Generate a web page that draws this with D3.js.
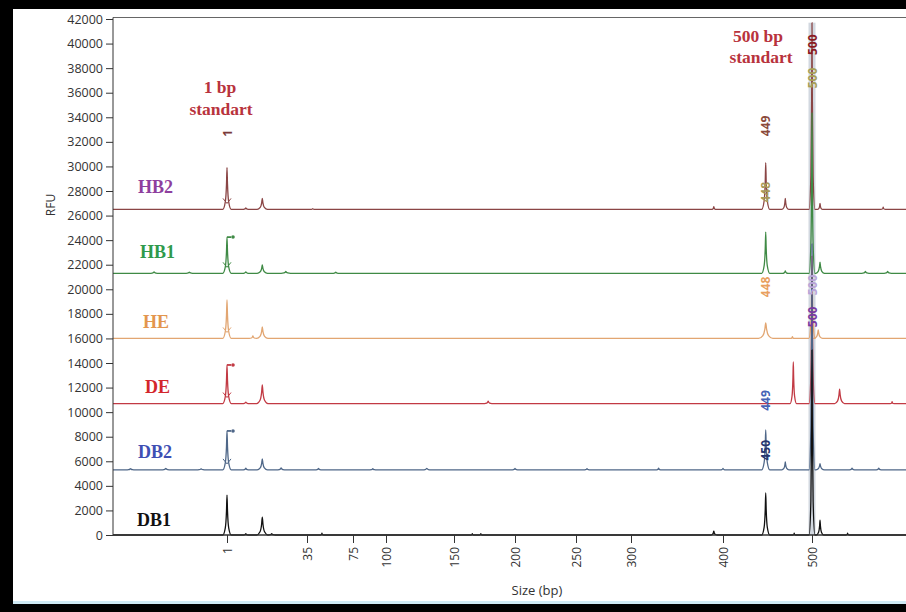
<!DOCTYPE html>
<html>
<head>
<meta charset="utf-8">
<script src="https://cdn.jsdelivr.net/npm/d3@7"></script>
<style>
  html, body { margin: 0; padding: 0; background: #fff; }
  svg { display: block; }
</style>
</head>
<body>
<svg id="chart" width="906" height="612"></svg>
<script>
// ---- data ----
const sampleNames = ["HB2", "HB1", "HE", "DE", "DB2", "DB1"];
const sampleColors = ["#8e3f9e", "#2f9a4c", "#e3964e", "#d3262c", "#3f4fb3", "#111111"];
const traceColors = ["#8a4545", "#3f8a45", "#e2a672", "#c23a44", "#4f6788", "#111111"];
const baselines = [26500, 21300, 16000, 10700, 5300, 0];

// peaks per sample: [size (bp), height above baseline (RFU), half width (bp)]
const peaksHB2 = [[1, 3400, 1.8], [9, 120, 1.5], [16, 900, 2.2], [40, 60, 3], [390, 220, 2.5], [448, 3800, 4.5], [470, 900, 4], [500, 15200, 3.2], [509, 500, 3], [580, 180, 2.5]];
const peaksHB1 = [[-30, 120, 2], [-15, 90, 2], [1, 2950, 1.8], [9, 120, 1.5], [16, 680, 2.2], [26, 150, 2], [60, 100, 3], [448, 3350, 4.5], [470, 200, 3], [500, 13050, 3.2], [509, 900, 5], [560, 150, 4], [585, 150, 4]];
const peaksHE = [[1, 3130, 1.8], [12, 200, 1.5], [16, 930, 2.4], [448, 1260, 8], [478, 150, 2], [500, 6000, 3.5], [507, 700, 5]];
const peaksDE = [[1, 3140, 1.8], [9, 120, 1.5], [16, 1510, 2.4], [178, 200, 3], [479, 3380, 3.6], [500, 12000, 3.2], [531, 1180, 5.5], [590, 150, 2]];
const peaksDB2 = [[-40, 100, 2], [-25, 120, 2], [-10, 90, 2], [1, 3170, 1.8], [9, 150, 1.5], [16, 890, 2.2], [24, 160, 2], [45, 120, 3], [90, 100, 3], [130, 130, 3], [200, 120, 3], [260, 110, 3], [330, 140, 3], [400, 120, 3], [448, 3250, 4.5], [470, 640, 4], [500, 18400, 3.2], [509, 500, 5], [545, 150, 4], [575, 150, 4]];
const peaksDB1 = [[1, 3250, 1.8], [9, 100, 1.5], [16, 1460, 2.4], [20, 120, 1.5], [48, 150, 1.5], [165, 100, 1.5], [172, 100, 1.5], [390, 320, 3.5], [448, 3420, 4.5], [480, 150, 1.5], [500, 15060, 3.2], [509, 1200, 4], [540, 150, 2]];
const samplePeaks = [peaksHB2, peaksHB1, peaksHE, peaksDE, peaksDB2, peaksDB1];

// rotated peak labels: [text, size (bp), level (RFU), colour]
const peakLabelText = ["1", "449", "448", "500", "500", "448", "500", "500", "449", "450"];
const peakLabelSize = [1, 448, 448, 500, 500, 448, 500, 500, 448, 448];
const peakLabelRfu = [32700, 33300, 27900, 39900, 37200, 20200, 20350, 17750, 10950, 6900];
const peakLabelColor = ["#7a3a3a", "#8b4a3a", "#a89a58", "#8b1a22", "#a8a058", "#e8a060", "#b9a4d8", "#7a3aa0", "#4563b5", "#27356f"];

const sizeTicks = [1, 35, 75, 100, 150, 200, 250, 300, 400, 500];
const rfuTicks = [0, 2000, 4000, 6000, 8000, 10000, 12000, 14000, 16000, 18000, 20000,
  22000, 24000, 26000, 28000, 30000, 32000, 34000, 36000, 38000, 40000, 42000];

// ---- layout ----
const W = 906, H = 612;
const plot = { left: 113, top: 17.5, right: 906, bottom: 535 };
const svg = d3.select("#chart");

// outer frame
svg.append("rect").attr("x", 0).attr("y", 0).attr("width", W).attr("height", H).attr("fill", "#000");
svg.append("rect").attr("x", 13).attr("y", 9).attr("width", W - 13).attr("height", 592).attr("fill", "#fff");
svg.append("rect").attr("x", 13).attr("y", 601).attr("width", W - 13).attr("height", 3).attr("fill", "#cfeaf5");

// size axis is calibrated against the sizing standard (non-linear in bp)
const x = d3.scaleLinear()
  .domain(sizeTicks)
  .range([227, 307, 353, 386, 454, 515, 576, 631, 723, 812]);
const y = d3.scaleLinear().domain([0, 42000]).range([plot.bottom, 19]);

const sizeMin = x.invert(plot.left), sizeMax = x.invert(plot.right);

svg.append("defs").append("clipPath").attr("id", "plotclip")
  .append("rect").attr("x", plot.left).attr("y", plot.top)
  .attr("width", plot.right - plot.left).attr("height", plot.bottom - plot.top + 2);

// bin band at the 500 bp standard
svg.append("rect")
  .attr("x", x(500) - 3.5).attr("width", 7)
  .attr("y", y(41700)).attr("height", y(0) - y(41700))
  .attr("fill", "#c3cbd6").attr("opacity", 0.75);

// ---- traces ----
const line = d3.line().x(d => x(d[0])).y(d => y(d[1])).curve(d3.curveMonotoneX);

function tracePoints(base, peaks) {
  const pts = [[sizeMin, base]];
  peaks.slice().sort((a, b) => a[0] - b[0]).forEach(([s, h, w]) => {
    pts.push([s - w, base]);
    pts.push([s - w * 0.4, base + h * 0.18]);
    pts.push([s - w * 0.12, base + h * 0.6]);
    pts.push([s, base + h]);
    pts.push([s + w * 0.12, base + h * 0.6]);
    pts.push([s + w * 0.4, base + h * 0.18]);
    pts.push([s + w, base]);
  });
  pts.push([sizeMax, base]);
  return pts;
}

const traces = svg.append("g").attr("clip-path", "url(#plotclip)");
sampleNames.forEach((name, i) => {
  traces.append("path")
    .datum(tracePoints(baselines[i], samplePeaks[i]))
    .attr("d", line)
    .attr("fill", "none")
    .attr("stroke", traceColors[i])
    .attr("stroke-width", 1.3)
    .attr("stroke-linejoin", "round");
});

// flags on the 1 bp standard peaks
[1, 3, 4].forEach(i => {
  const top = baselines[i] + samplePeaks[i].find(p => p[0] === 1)[1];
  const g = traces.append("g");
  g.append("path")
    .attr("d", `M${x(1)},${y(top)}h4`)
    .attr("stroke", traceColors[i]).attr("stroke-width", 1.8).attr("fill", "none");
  g.append("circle").attr("cx", x(1) + 6).attr("cy", y(top)).attr("r", 1.8)
    .attr("fill", traceColors[i]);
});
// arrow markers near the base of the 1 bp peaks
[0, 1, 2, 3, 4].forEach(i => {
  const yy = y(baselines[i] + 650);
  traces.append("path")
    .attr("d", `M${x(1) - 4},${yy - 3}L${x(1)},${yy + 2}L${x(1) + 4},${yy - 3}`)
    .attr("fill", "none").attr("stroke", traceColors[i]).attr("stroke-width", 1);
});

// rotated peak labels
peakLabelText.forEach((t, i) => {
  svg.append("text")
    .attr("transform", `translate(${x(peakLabelSize[i]) + 4.5},${y(peakLabelRfu[i])}) rotate(-90)`)
    .attr("text-anchor", "middle")
    .attr("font-family", "'Open Sans', sans-serif")
    .attr("font-size", 12).attr("font-weight", 700)
    .attr("fill", peakLabelColor[i])
    .text(t);
});

// ---- axes ----
const axisColor = "#333";
svg.append("line").attr("x1", plot.left).attr("x2", plot.right)
  .attr("y1", plot.top).attr("y2", plot.top).attr("stroke", "#666").attr("stroke-width", 1);

const yAxis = svg.append("g").attr("transform", `translate(${plot.left},0)`)
  .call(d3.axisLeft(y).tickValues(rfuTicks).tickFormat(d3.format("d")).tickSize(7).tickPadding(3));
yAxis.select(".domain").attr("stroke", axisColor).attr("d", `M0,${plot.top}V${plot.bottom}`);
yAxis.selectAll(".tick line").attr("stroke", axisColor);
yAxis.selectAll("text").attr("font-family", "'Open Sans', sans-serif").attr("font-size", 12.5).attr("fill", "#333");

const xAxis = svg.append("g").attr("transform", `translate(0,${plot.bottom})`)
  .call(d3.axisBottom(x).tickValues(sizeTicks).tickFormat(d3.format("d")).tickSize(8));
xAxis.select(".domain").attr("stroke", axisColor).attr("stroke-width", 1.4)
  .attr("d", `M${plot.left},0H${plot.right}`);
xAxis.selectAll(".tick line").attr("stroke", axisColor);
xAxis.selectAll("text")
  .attr("font-family", "'Open Sans', sans-serif").attr("font-size", 12).attr("fill", "#333")
  .attr("text-anchor", "end").attr("dy", "0.35em")
  .attr("transform", "translate(0,12) rotate(-90)")
  .attr("x", 0).attr("y", 0);

svg.append("text").attr("x", 537).attr("y", 595).attr("text-anchor", "middle")
  .attr("font-family", "'Open Sans', sans-serif").attr("font-size", 13).attr("fill", "#333")
  .text("Size (bp)");
svg.append("text").attr("transform", "translate(55,205) rotate(-90)").attr("text-anchor", "middle")
  .attr("font-family", "'Open Sans', sans-serif").attr("font-size", 12).attr("fill", "#333")
  .text("RFU");

// ---- sample names ----
const nameX = [138, 140, 143, 145, 138, 137];
const nameY = [193, 258, 328, 393, 458, 526];
sampleNames.forEach((n, i) => {
  svg.append("text").attr("x", nameX[i]).attr("y", nameY[i])
    .attr("font-family", "'Liberation Serif', 'Times New Roman', serif")
    .attr("font-weight", 700).attr("font-size", 18)
    .attr("fill", sampleColors[i]).text(n);
});

// ---- standard annotations ----
const noteColor = "#b8333d";
[["1 bp", 220, 93], ["standart", 221, 115], ["500 bp", 758, 42], ["standart", 761, 63]].forEach(([t, cx, cy]) => {
  svg.append("text").attr("x", cx).attr("y", cy).attr("text-anchor", "middle")
    .attr("font-family", "'Liberation Serif', 'Times New Roman', serif")
    .attr("font-weight", 700).attr("font-size", 17.5)
    .attr("fill", noteColor).text(t);
});
</script>
</body>
</html>
